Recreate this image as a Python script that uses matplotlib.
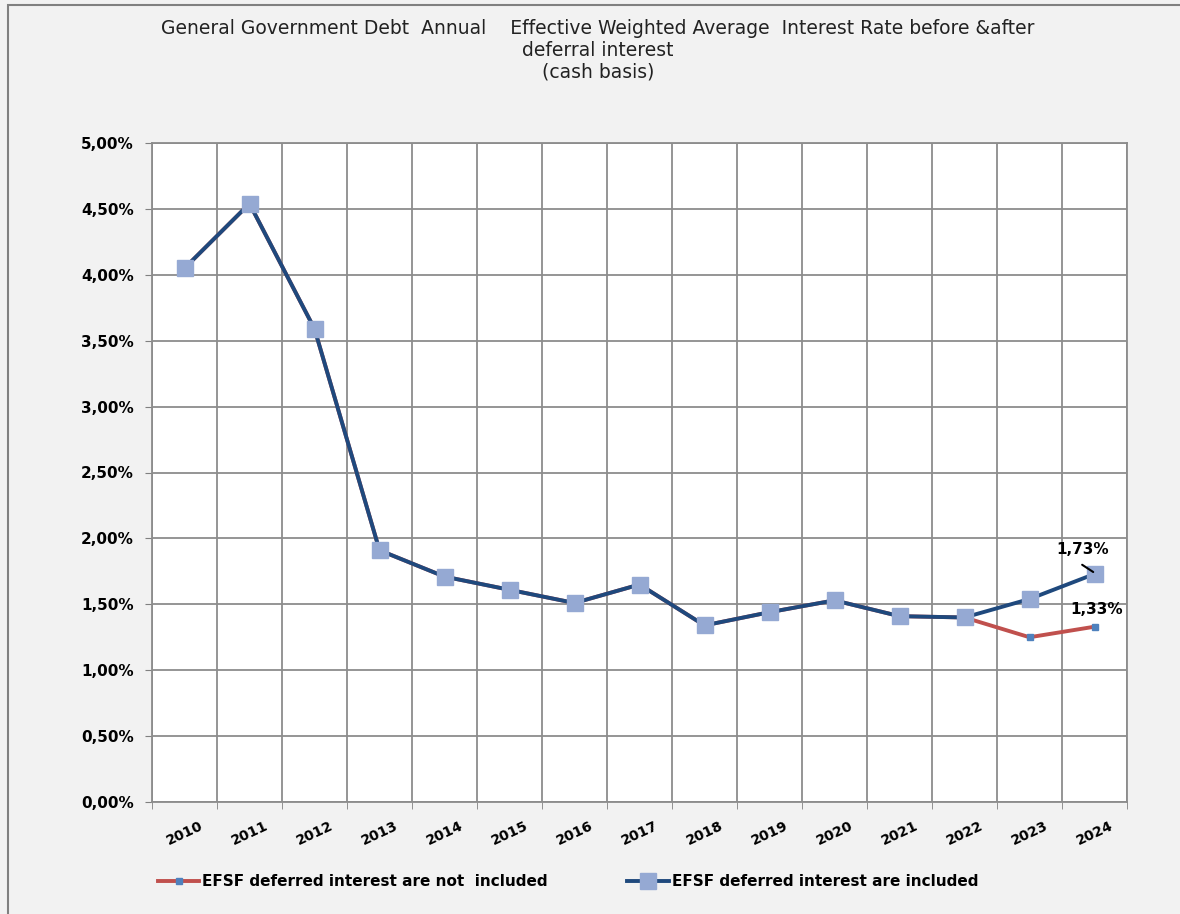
import numpy as np
import matplotlib
matplotlib.use("Agg")
from matplotlib import pyplot as plt
from matplotlib.patches import Rectangle

years = ['2010', '2011', '2012', '2013', '2014', '2015', '2016', '2017',
         '2018', '2019', '2020', '2021', '2022', '2023', '2024']
rate_included = [4.05, 4.54, 3.59, 1.91, 1.71, 1.61, 1.51, 1.65,
                 1.34, 1.44, 1.53, 1.41, 1.40, 1.54, 1.73]
rate_not_included = [4.05, 4.54, 3.59, 1.91, 1.71, 1.61, 1.51, 1.65,
                     1.34, 1.44, 1.53, 1.41, 1.40, 1.25, 1.33]
yticks = [0, 0.5, 1, 1.5, 2, 2.5, 3, 3.5, 4, 4.5, 5]

bg = '#f2f2f2'
fig = plt.figure(figsize=(11.8, 9.14), dpi=100, facecolor=bg)
fig.patches.append(Rectangle((8 / 1180, -0.01), 1.1, 1 - 5 / 914 + 0.01,
                             transform=fig.transFigure, fill=False,
                             edgecolor='#808080', linewidth=1.5))

ax = fig.add_axes([152 / 1180, 1 - 802 / 914, 975 / 1180, 659 / 914])
ax.set_facecolor('white')

x = np.arange(len(years))
ax.plot(x, rate_not_included, color='#c0504d', lw=2.8, marker='s', ms=4.5,
        mfc='#4f81bd', mec='#4f81bd', zorder=3,
        label='EFSF deferred interest are not  included')
ax.plot(x, rate_included, color='#1f497d', lw=2.8, marker='s', ms=12,
        mfc='#95a9d3', mec='#95a9d3', zorder=4,
        label='EFSF deferred interest are included')

ax.set_xlim(-0.5, len(years) - 0.5)
ax.set_ylim(0, 5)
ax.set_yticks(yticks)
ax.set_yticklabels([('%.2f%%' % v).replace('.', ',') for v in yticks],
                   fontsize=11, fontweight='bold')
ax.set_xticks(x)
ax.set_xticklabels(years, rotation=25, fontsize=10, fontweight='bold')
ax.set_xticks(np.arange(-0.5, len(years)), minor=True)
ax.tick_params(axis='x', which='major', length=0, pad=12)
ax.tick_params(axis='x', which='minor', length=5, color='#808080')
ax.tick_params(axis='y', length=5, color='#808080', pad=8)
ax.grid(True, axis='y', color='#8c8c8c', lw=1.3)
ax.grid(True, axis='x', which='minor', color='#8c8c8c', lw=1.3)
ax.set_axisbelow(True)
for s in ax.spines.values():
    s.set_color('#8c8c8c')
    s.set_linewidth(1.3)

# data labels on the last points
ax.text(13.81, 1.86, '1,73%', fontsize=11, fontweight='bold',
        ha='center', va='bottom')
ax.annotate('', xy=(13.98, 1.745), xytext=(13.81, 1.80), zorder=6,
            arrowprops=dict(arrowstyle='-', color='black', lw=1.5,
                            shrinkA=0, shrinkB=0))
ax.text(14.04, 1.40, '1,33%', fontsize=11, fontweight='bold',
        ha='center', va='bottom')

fig.text(598 / 1180, 1 - 19 / 914,
         'General Government Debt  Annual    Effective Weighted Average  Interest Rate before &after\n'
         'deferral interest\n(cash basis)',
         ha='center', va='top', fontsize=13.5, linespacing=1.2, color='#222222')

fig.legend(loc='center', bbox_to_anchor=(568 / 1180, 1 - 882 / 914), ncol=2,
           frameon=False, prop={'weight': 'bold', 'size': 11},
           handlelength=2.7, handletextpad=0.2, columnspacing=5.2)

fig.savefig('out.png', dpi=100, facecolor=bg)
